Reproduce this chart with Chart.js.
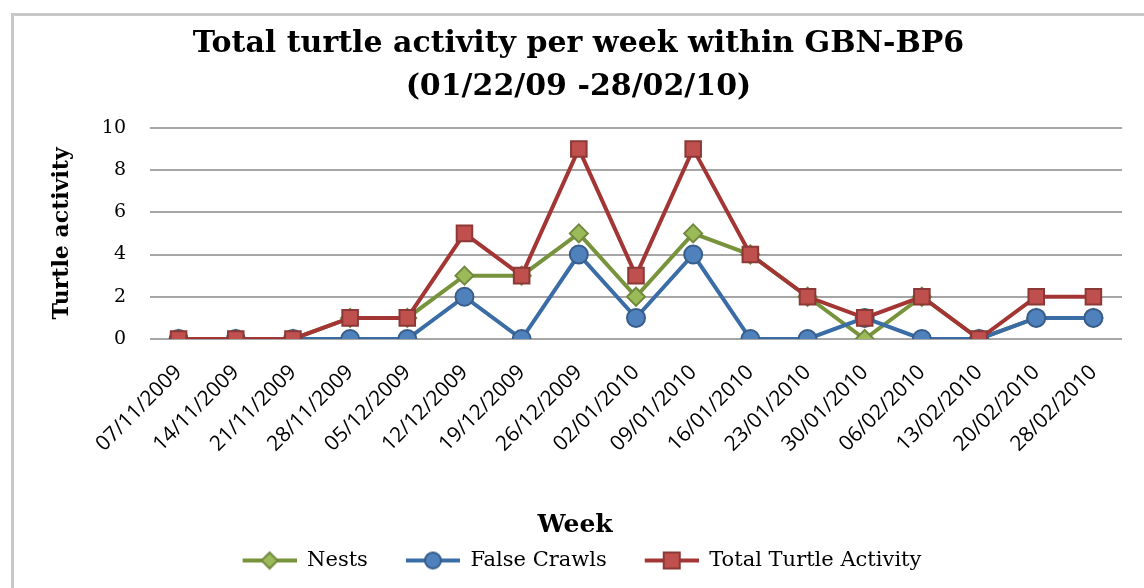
<!DOCTYPE html>
<html>
<head>
<meta charset="utf-8">
<script src="https://cdn.jsdelivr.net/npm/chart.js@4"></script>
<style>
  html, body { margin: 0; padding: 0; background: #fff; }
  #wrap { position: relative; width: 1144px; height: 588px; overflow: hidden; }
  #frame { position: absolute; left: 11px; top: 13px; width: 1200px; height: 700px; border: 3px solid #c8c8c8; box-sizing: border-box; }
  canvas { position: absolute; left: 0; top: 0; }
</style>
</head>
<body>
<div id="wrap">
  <div id="frame"></div>
  <canvas id="chart" width="1144" height="588"></canvas>
</div>
<script>
// Недели (подписи по оси X)
const weeks = ['07/11/2009', '14/11/2009', '21/11/2009', '28/11/2009', '05/12/2009', '12/12/2009',
    '19/12/2009', '26/12/2009', '02/01/2010', '09/01/2010', '16/01/2010', '23/01/2010',
    '30/01/2010', '06/02/2010', '13/02/2010', '20/02/2010', '28/02/2010'];

// Значения серий
const nests = [0, 0, 0, 1, 1, 3, 3, 5, 2, 5, 4, 2, 0, 2, 0, 1, 1];
const falseCrawls = [0, 0, 0, 0, 0, 2, 0, 4, 1, 4, 0, 0, 1, 0, 0, 1, 1];
const totalActivity = [0, 0, 0, 1, 1, 5, 3, 9, 3, 9, 4, 2, 1, 2, 0, 2, 2];

const serif = "'DejaVu Serif', 'Liberation Serif', serif";
const sans = "'Open Sans', 'Liberation Sans', sans-serif";

// Значок для легенды: линия + маркер, как в Excel (слева пустой отступ между пунктами)
const GAP = 28;
function legendIcon(lineColor, fill, border, shape) {
    const c = document.createElement('canvas');
    c.width = GAP + 54; c.height = 20;
    const g = c.getContext('2d');
    const cx = GAP + 27, cy = 10;
    g.strokeStyle = lineColor;
    g.lineWidth = 4;
    g.beginPath(); g.moveTo(GAP, cy); g.lineTo(GAP + 54, cy); g.stroke();
    g.fillStyle = fill;
    g.strokeStyle = border;
    g.lineWidth = 2;
    g.beginPath();
    if (shape === 'circle') {
        g.arc(cx, cy, 8, 0, Math.PI * 2);
    } else if (shape === 'rect') {
        g.rect(cx - 8, cy - 8, 16, 16);
    } else {
        g.moveTo(cx, cy - 8); g.lineTo(cx + 8, cy); g.lineTo(cx, cy + 8); g.lineTo(cx - 8, cy); g.closePath();
    }
    g.fill(); g.stroke();
    return c;
}

const icons = [
    legendIcon('#77933c', '#9bbb59', '#71893f', 'rectRot'),
    legendIcon('#3a6ca6', '#4f81bd', '#385d8a', 'circle'),
    legendIcon('#a33634', '#c0504d', '#8c3836', 'rect')
];

const ctx = document.getElementById('chart').getContext('2d');
new Chart(ctx, {
    type: 'line',
    data: {
        labels: weeks,
        datasets: [
            {
                label: 'Nests',
                data: nests,
                borderColor: '#77933c',
                backgroundColor: '#9bbb59',
                pointBorderColor: '#71893f',
                pointStyle: 'rectRot',
                pointRadius: 9,
                pointBorderWidth: 2,
                borderWidth: 4,
                tension: 0,
                order: 3
            },
            {
                label: 'False Crawls',
                data: falseCrawls,
                borderColor: '#3a6ca6',
                backgroundColor: '#4f81bd',
                pointBorderColor: '#385d8a',
                pointStyle: 'circle',
                pointRadius: 9,
                pointBorderWidth: 2,
                borderWidth: 4,
                tension: 0,
                order: 2
            },
            {
                label: 'Total Turtle Activity',
                data: totalActivity,
                borderColor: '#a33634',
                backgroundColor: '#c0504d',
                pointBorderColor: '#8c3836',
                pointStyle: 'rect',
                pointRadius: 11,
                pointBorderWidth: 2,
                borderWidth: 4,
                tension: 0,
                order: 1
            }
        ]
    },
    options: {
        responsive: false,
        animation: false,
        devicePixelRatio: 1,
        layout: { padding: { left: 14, right: 22, top: 23, bottom: 7 } },
        plugins: {
            title: {
                display: true,
                // небольшой отступ слева, заголовок в оригинале чуть правее центра
                text: ['\u00a0\u00a0Total turtle activity per week within GBN-BP6', '\u00a0\u00a0(01/22/09 -28/02/10)'],
                color: '#000',
                font: { family: serif, size: 30, weight: 'bold', lineHeight: 1.43 },
                padding: { top: 0, bottom: 19 }
            },
            legend: {
                position: 'bottom',
                labels: {
                    usePointStyle: true,
                    pointStyleWidth: GAP + 54,
                    generateLabels: chart => chart.data.datasets.map((ds, i) => ({
                        text: ds.label,
                        pointStyle: icons[i],
                        fillStyle: ds.backgroundColor,
                        strokeStyle: ds.borderColor,
                        lineWidth: 0,
                        hidden: false,
                        datasetIndex: i
                    })),
                    color: '#000',
                    font: { family: serif, size: 21 },
                    padding: 10
                }
            },
            tooltip: { enabled: false }
        },
        scales: {
            x: {
                offset: true,
                grid: { display: false },
                border: { display: false },
                afterFit: scale => { scale.height = 201; },
                ticks: {
                    color: '#000',
                    font: { family: sans, size: 21 },
                    minRotation: 45,
                    maxRotation: 45,
                    autoSkip: false,
                    padding: 13
                },
                title: {
                    display: true,
                    // подпись в оригинале смещена влево от центра области графика
                    text: 'Week' + '\u00a0'.repeat(14),
                    color: '#000',
                    font: { family: serif, size: 25, weight: 'bold' },
                    padding: { top: 0, bottom: 0 }
                }
            },
            y: {
                min: 0,
                max: 10,
                afterFit: scale => { scale.width = 136; },
                ticks: {
                    stepSize: 2,
                    color: '#000',
                    font: { family: serif, size: 19 },
                    padding: 24
                },
                grid: { color: '#a6a6a6', lineWidth: 2, drawTicks: false },
                border: { display: false },
                title: {
                    display: true,
                    text: 'Turtle activity',
                    color: '#000',
                    font: { family: serif, size: 22, weight: 'bold' },
                    padding: { top: 35, bottom: 0 }
                }
            }
        }
    }
});
</script>
</body>
</html>
